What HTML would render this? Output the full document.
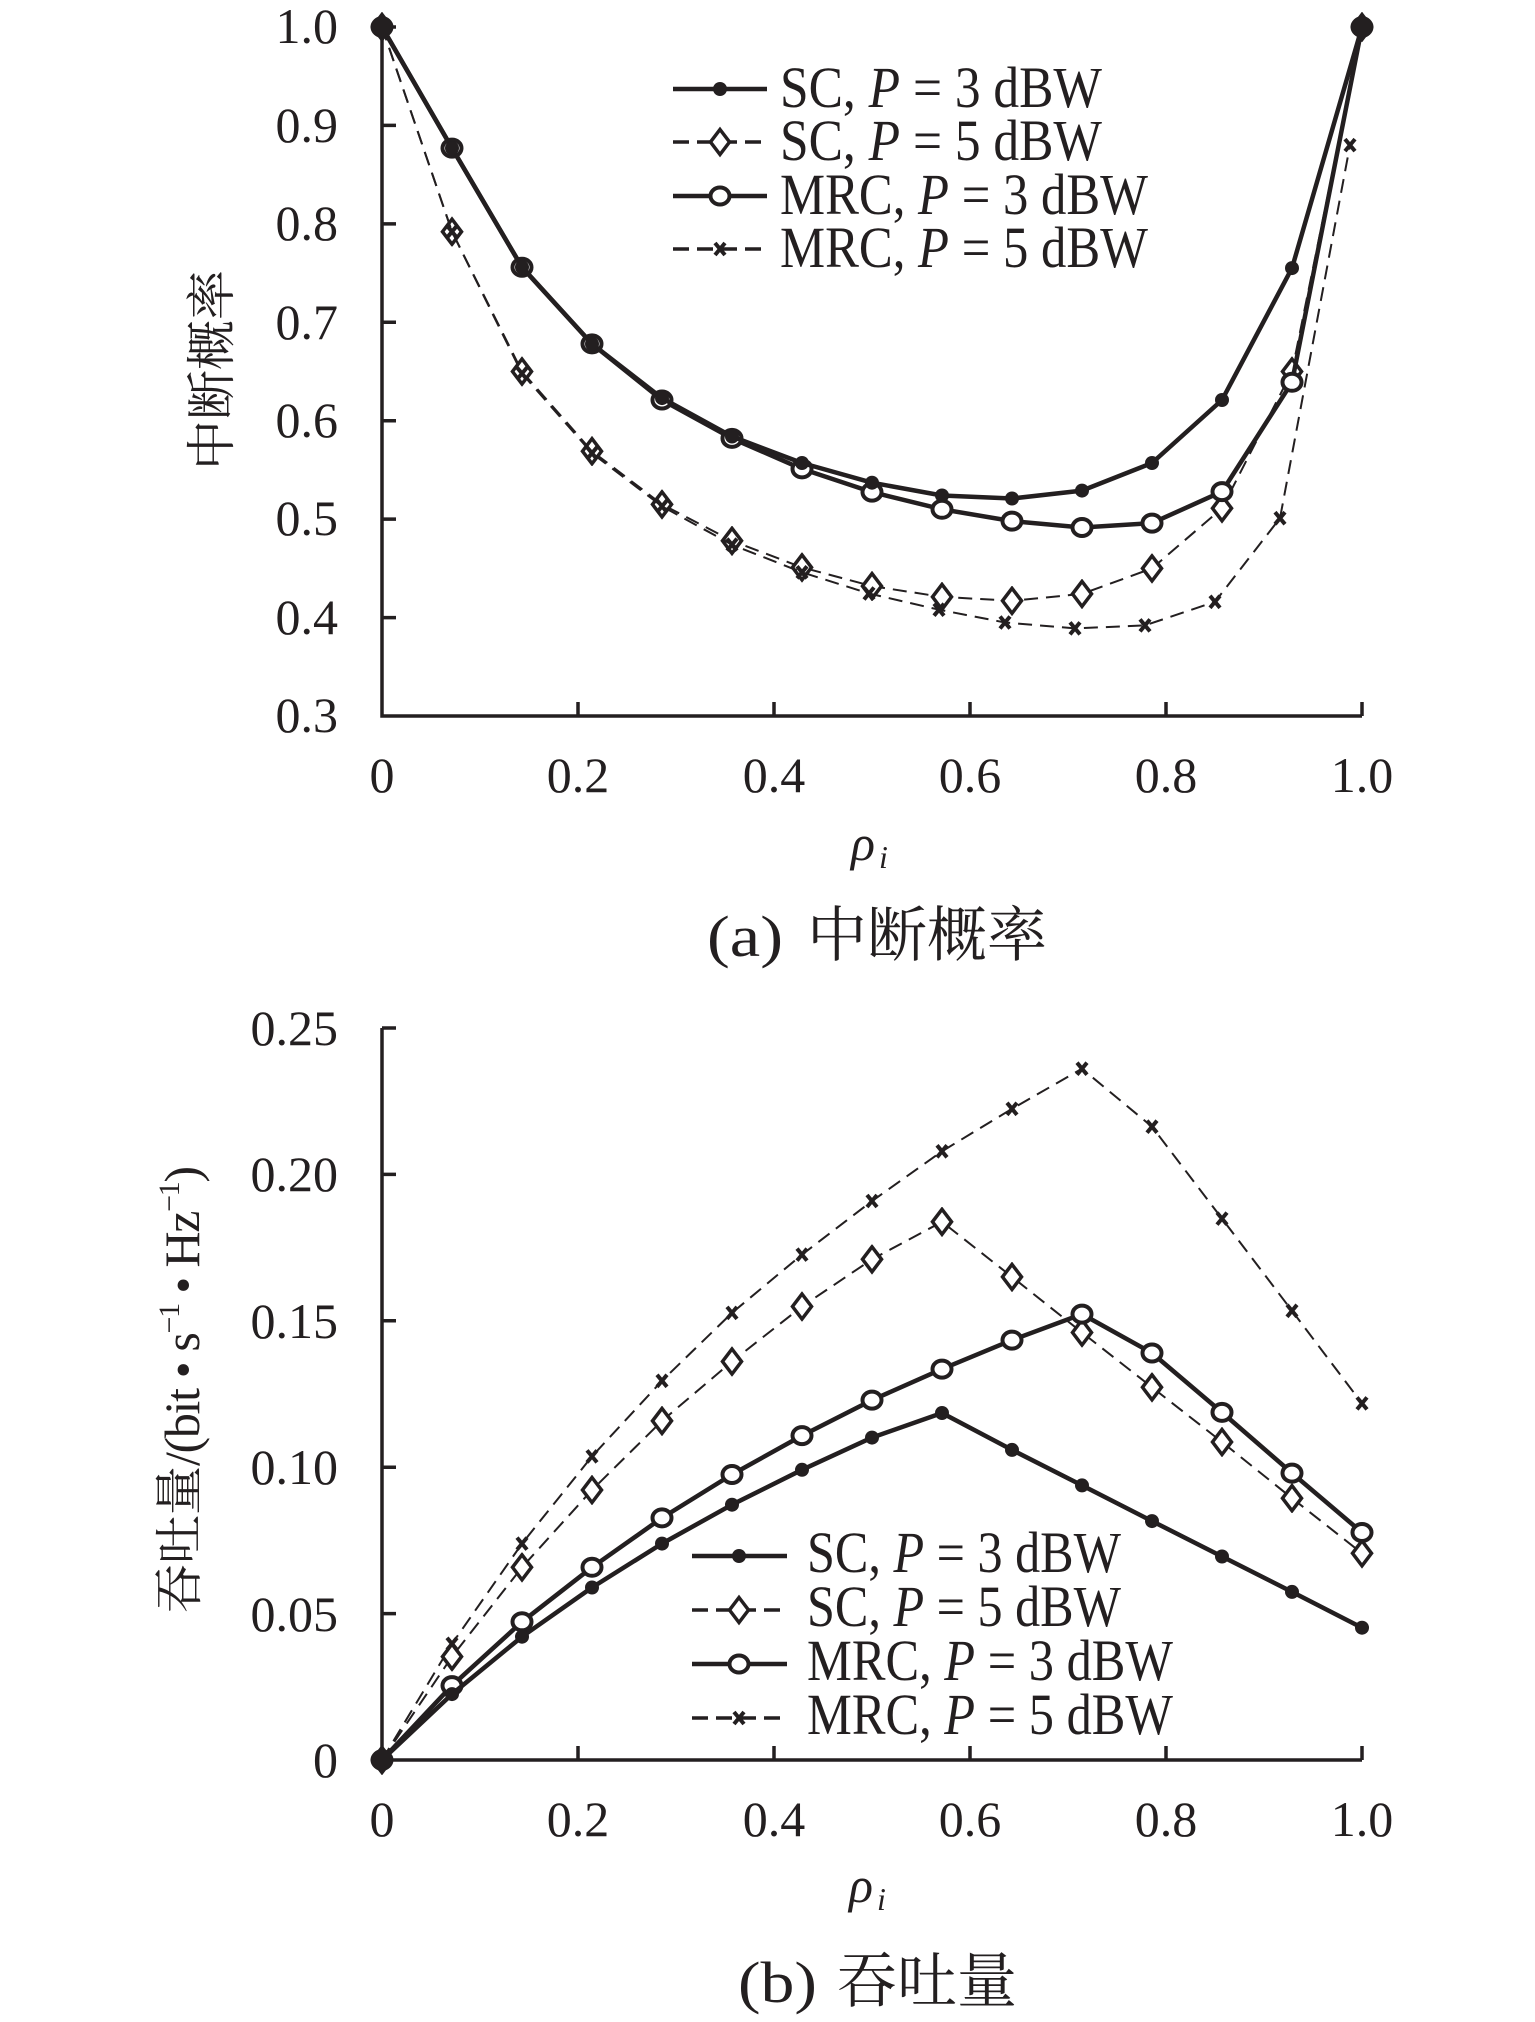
<!DOCTYPE html>
<html>
<head>
<meta charset="utf-8">
<style>
  html, body { margin: 0; padding: 0; background: #fff; }
  svg { display: block; }
  .t { font-family: "Liberation Serif", "Noto Serif CJK SC", serif; fill: #231f20; }
  .cjk { font-family: "Noto Serif CJK SC", "Noto Sans CJK SC", serif; fill: #231f20; }
</style>
</head>
<body>
<svg width="1535" height="2022" viewBox="0 0 1535 2022" xmlns="http://www.w3.org/2000/svg">
  <defs>
    <marker id="mDot" markerUnits="userSpaceOnUse" viewBox="-15 -15 30 30" markerWidth="30" markerHeight="30" refX="0" refY="0">
      <circle r="7" fill="#231f20"/>
    </marker>
    <marker id="mCirc" markerUnits="userSpaceOnUse" viewBox="-15 -15 30 30" markerWidth="30" markerHeight="30" refX="0" refY="0">
      <ellipse rx="9.5" ry="8.5" fill="#fff" stroke="#231f20" stroke-width="4"/>
    </marker>
    <marker id="mDia" markerUnits="userSpaceOnUse" viewBox="-15 -15 30 30" markerWidth="30" markerHeight="30" refX="0" refY="0">
      <path d="M0,-12.5 L9.5,0 L0,12.5 L-9.5,0Z" fill="#fff" stroke="#231f20" stroke-width="3.5"/>
    </marker>
    <marker id="mX" markerUnits="userSpaceOnUse" viewBox="-15 -15 30 30" markerWidth="30" markerHeight="30" refX="0" refY="0">
      <path d="M-5,-6L5,6M-5,6L5,-6" stroke="#231f20" stroke-width="4" fill="none"/>
    </marker>
  </defs>

  <!-- ================= Chart (a) ================= -->
  <g stroke="#231f20" stroke-width="3.5" fill="none">
    <path d="M382,27 V716 H1362"/>
    <path d="M382,27 H396 M382,125.4 H396 M382,223.9 H396 M382,322.3 H396 M382,420.7 H396 M382,519.1 H396 M382,617.6 H396"/>
    <path d="M578,716 V702 M774,716 V702 M970,716 V702 M1166,716 V702 M1362,716 V702"/>
  </g>
  <g class="t" font-size="50" text-anchor="end">
    <text x="338" y="43">1.0</text>
    <text x="338" y="142">0.9</text>
    <text x="338" y="240">0.8</text>
    <text x="338" y="339">0.7</text>
    <text x="338" y="437">0.6</text>
    <text x="338" y="535">0.5</text>
    <text x="338" y="634">0.4</text>
    <text x="338" y="732">0.3</text>
  </g>
  <g class="t" font-size="50" text-anchor="middle">
    <text x="382" y="792">0</text>
    <text x="578" y="792">0.2</text>
    <text x="774" y="792">0.4</text>
    <text x="970" y="792">0.6</text>
    <text x="1166" y="792">0.8</text>
    <text x="1362" y="792">1.0</text>
  </g>

  <polyline fill="none" stroke="#231f20" stroke-width="2" stroke-dasharray="14,8"
    marker-start="url(#mDia)" marker-mid="url(#mDia)" marker-end="url(#mDia)"
    points="382,27 452,231.7 522,371.5 592,451.2 662,504.4 732,540.8 802,567.4 872,586.1 942,596.9 1012,600.8 1082,593.9 1152,568.4 1222,508.3 1292,371.5 1362,27"/>
  <polyline fill="none" stroke="#231f20" stroke-width="2" stroke-dasharray="14,8"
    marker-start="url(#mX)" marker-mid="url(#mX)" marker-end="url(#mX)"
    points="382,27 452,231.7 522,373.5 592,453.2 662,506.3 732,544.7 802,572.3 869,593.5 939,609.7 1005,622.5 1075,628.4 1145,625.4 1215,601.8 1280,518.2 1350,145.1"/>
  <polyline fill="none" stroke="#231f20" stroke-width="4.5" stroke-linejoin="round"
    marker-start="url(#mCirc)" marker-mid="url(#mCirc)" marker-end="url(#mCirc)"
    points="382,27 452,148.1 522,267.2 592,343.9 662,400.0 732,438.4 802,468.9 872,492.1 942,509.3 1012,521.1 1082,527.5 1152,523.1 1222,491.6 1292,382.3 1362,27"/>
  <polyline fill="none" stroke="#231f20" stroke-width="4.5" stroke-linejoin="round"
    marker-start="url(#mDot)" marker-mid="url(#mDot)" marker-end="url(#mDot)"
    points="382,27 452,148.1 522,267.2 592,343.9 662,398.1 732,436.5 802,463.0 872,482.7 942,495.5 1012,498.5 1082,490.6 1152,463.0 1222,400.0 1292,268.1 1362,27"/>
  <circle cx="382" cy="27" r="11" fill="#231f20"/>
  <circle cx="1362" cy="27" r="11" fill="#231f20"/>

  <!-- legend (a) -->
  <g stroke="#231f20" fill="none">
    <path d="M673,89 H767" stroke-width="4.5"/>
    <path d="M673,142 H767" stroke-width="3.5" stroke-dasharray="16,8"/>
    <path d="M673,196 H767" stroke-width="4.5"/>
    <path d="M673,249 H767" stroke-width="3.5" stroke-dasharray="16,8"/>
  </g>
  <circle cx="720" cy="89" r="7" fill="#231f20"/>
  <path d="M720,129.5 L729.5,142 L720,154.5 L710.5,142Z" fill="#fff" stroke="#231f20" stroke-width="3.5"/>
  <ellipse cx="720" cy="196" rx="9.5" ry="8.5" fill="#fff" stroke="#231f20" stroke-width="4"/>
  <path d="M715,243L725,255M715,255L725,243" stroke="#231f20" stroke-width="4"/>
  <g class="t" font-size="58">
    <text x="780" y="107" textLength="322" lengthAdjust="spacingAndGlyphs">SC, <tspan font-style="italic">P</tspan> = 3 dBW</text>
    <text x="780" y="160" textLength="322" lengthAdjust="spacingAndGlyphs">SC, <tspan font-style="italic">P</tspan> = 5 dBW</text>
    <text x="780" y="214" textLength="368" lengthAdjust="spacingAndGlyphs">MRC, <tspan font-style="italic">P</tspan> = 3 dBW</text>
    <text x="780" y="267" textLength="368" lengthAdjust="spacingAndGlyphs">MRC, <tspan font-style="italic">P</tspan> = 5 dBW</text>
  </g>

  <g transform="translate(212,370) rotate(-90)">
    <text class="cjk" x="0" y="17" font-size="50" text-anchor="middle">中断概率</text>
  </g>
  <text class="t" x="851" y="860" font-size="50" font-style="italic">ρ</text>
  <text class="t" x="879" y="868" font-size="32" font-style="italic">i</text>

  <text class="t" x="707" y="956" font-size="58" textLength="76" lengthAdjust="spacingAndGlyphs">(a)</text>
  <text class="cjk" x="807" y="956" font-size="60">中断概率</text>

  <!-- ================= Chart (b) ================= -->
  <g stroke="#231f20" stroke-width="3.5" fill="none">
    <path d="M382,1028 V1760 H1362"/>
    <path d="M382,1028 H396 M382,1174.4 H396 M382,1320.8 H396 M382,1467.2 H396 M382,1613.6 H396"/>
    <path d="M578,1760 V1746 M774,1760 V1746 M970,1760 V1746 M1166,1760 V1746 M1362,1760 V1746"/>
  </g>
  <g class="t" font-size="50" text-anchor="end">
    <text x="338" y="1045">0.25</text>
    <text x="338" y="1191">0.20</text>
    <text x="338" y="1338">0.15</text>
    <text x="338" y="1484">0.10</text>
    <text x="338" y="1631">0.05</text>
    <text x="338" y="1777">0</text>
  </g>
  <g class="t" font-size="50" text-anchor="middle">
    <text x="382" y="1836">0</text>
    <text x="578" y="1836">0.2</text>
    <text x="774" y="1836">0.4</text>
    <text x="970" y="1836">0.6</text>
    <text x="1166" y="1836">0.8</text>
    <text x="1362" y="1836">1.0</text>
  </g>

  <polyline fill="none" stroke="#231f20" stroke-width="2" stroke-dasharray="14,8"
    marker-start="url(#mX)" marker-mid="url(#mX)" marker-end="url(#mX)"
    points="382,1760 452,1643.8 522,1543.6 592,1456.4 662,1380.8 732,1312.9 802,1254.6 872,1201.0 942,1151.3 1012,1108.8 1082,1068.7 1152,1126.7 1222,1218.6 1292,1310.8 1362,1403.4"/>
  <polyline fill="none" stroke="#231f20" stroke-width="2" stroke-dasharray="14,8"
    marker-start="url(#mDia)" marker-mid="url(#mDia)" marker-end="url(#mDia)"
    points="382,1760 452,1656.6 522,1567.3 592,1490.0 662,1420.9 732,1361.5 802,1306.5 872,1259.3 942,1221.8 1012,1276.9 1082,1332.5 1152,1387.3 1222,1442.0 1292,1498.2 1362,1553.3"/>
  <polyline fill="none" stroke="#231f20" stroke-width="4.5" stroke-linejoin="round"
    marker-start="url(#mCirc)" marker-mid="url(#mCirc)" marker-end="url(#mCirc)"
    points="382,1760 452,1685.6 522,1621.8 592,1567.3 662,1517.9 732,1474.5 802,1435.6 872,1400.1 942,1369.1 1012,1340.1 1082,1314.1 1152,1353.0 1222,1412.4 1292,1473.1 1362,1532.5"/>
  <polyline fill="none" stroke="#231f20" stroke-width="4.5" stroke-linejoin="round"
    marker-start="url(#mDot)" marker-mid="url(#mDot)" marker-end="url(#mDot)"
    points="382,1760 452,1694.1 522,1636.7 592,1587.5 662,1543.6 732,1504.7 802,1469.8 872,1437.6 942,1413.0 1012,1449.9 1082,1485.4 1152,1521.1 1222,1556.5 1292,1591.9 1362,1627.7"/>
  <circle cx="382" cy="1760" r="11" fill="#231f20"/>

  <!-- legend (b) -->
  <g stroke="#231f20" fill="none">
    <path d="M692,1556 H787" stroke-width="4.5"/>
    <path d="M692,1610 H787" stroke-width="3.5" stroke-dasharray="16,8"/>
    <path d="M692,1664 H787" stroke-width="4.5"/>
    <path d="M692,1718 H787" stroke-width="3.5" stroke-dasharray="16,8"/>
  </g>
  <circle cx="739" cy="1556" r="7" fill="#231f20"/>
  <path d="M739,1597.5 L748.5,1610 L739,1622.5 L729.5,1610Z" fill="#fff" stroke="#231f20" stroke-width="3.5"/>
  <ellipse cx="739" cy="1664" rx="9.5" ry="8.5" fill="#fff" stroke="#231f20" stroke-width="4"/>
  <path d="M734,1712L744,1724M734,1724L744,1712" stroke="#231f20" stroke-width="4"/>
  <g class="t" font-size="58">
    <text x="807" y="1572" textLength="314" lengthAdjust="spacingAndGlyphs">SC, <tspan font-style="italic">P</tspan> = 3 dBW</text>
    <text x="807" y="1626" textLength="314" lengthAdjust="spacingAndGlyphs">SC, <tspan font-style="italic">P</tspan> = 5 dBW</text>
    <text x="807" y="1680" textLength="366" lengthAdjust="spacingAndGlyphs">MRC, <tspan font-style="italic">P</tspan> = 3 dBW</text>
    <text x="807" y="1734" textLength="366" lengthAdjust="spacingAndGlyphs">MRC, <tspan font-style="italic">P</tspan> = 5 dBW</text>
  </g>

  <g transform="translate(178,1372) rotate(-90)">
    <text class="cjk" x="-241" y="18" font-size="49">吞吐量</text>
    <text class="t" x="-94" y="21" font-size="50" textLength="300" lengthAdjust="spacing">/(bit <tspan font-size="48">•</tspan> s<tspan font-size="30" dy="-20">−1</tspan><tspan font-size="48" dy="20"> • </tspan>Hz<tspan font-size="30" dy="-20">−1</tspan><tspan dy="20">)</tspan></text>
  </g>
  <text class="t" x="849" y="1902" font-size="50" font-style="italic">ρ</text>
  <text class="t" x="877" y="1910" font-size="32" font-style="italic">i</text>

  <text class="t" x="738" y="2002" font-size="58" textLength="79" lengthAdjust="spacingAndGlyphs">(b)</text>
  <text class="cjk" x="837" y="2002" font-size="60">吞吐量</text>
</svg>
</body>
</html>
